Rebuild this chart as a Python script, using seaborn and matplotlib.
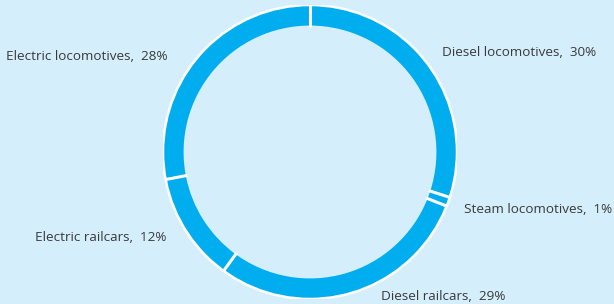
import numpy as np
import matplotlib.pyplot as plt
import seaborn as sns

# Rolling stock shares
categories = ["Diesel locomotives", "Steam locomotives", "Diesel railcars",
              "Electric railcars", "Electric locomotives"]
shares = [30, 1, 29, 12, 28]

bg = "#d5eefb"
ring = "#00aeef"
txt = "#3a3a3a"

sns.set_style("white")
plt.rcParams['font.family'] = ['Open Sans', 'DejaVu Sans']

fig = plt.figure(figsize=(6.14, 3.04), dpi=100, facecolor=bg)
ax = fig.add_axes([163 / 614, 5 / 304, 294 / 614, 294 / 304])
ax.set_facecolor(bg)

wedges, _ = ax.pie(shares, startangle=90, counterclock=False, colors=[ring] * len(shares),
                   radius=1.0, wedgeprops=dict(width=0.14, linewidth=0))

# white separators between segments and outer rim
for w in wedges:
    a = np.deg2rad(w.theta1)
    ax.plot([0.85 * np.cos(a), 1.0 * np.cos(a)], [0.85 * np.sin(a), 1.0 * np.sin(a)],
            color="white", lw=2.2, solid_capstyle="butt")
ax.add_patch(plt.Circle((0, 0), 1.0, fill=False, edgecolor="white", lw=1.8))

# label placement (axes data coords)
label_pos = [(0.90, 0.68, "left"), (1.05, -0.39, "left"), (0.48, -0.98, "left"),
             (-0.98, -0.58, "right"), (-0.97, 0.65, "right")]
for name, val, (x, y, ha) in zip(categories, shares, label_pos):
    ax.text(x, y, f"{name},  {val}%", ha=ha, va="center", fontsize=9.7, color=txt)

ax.set_xlim(-1.0, 1.0)
ax.set_ylim(-1.0, 1.0)
ax.set_aspect("equal")
ax.axis("off")

fig.savefig("out.png", dpi=100, facecolor=bg)
